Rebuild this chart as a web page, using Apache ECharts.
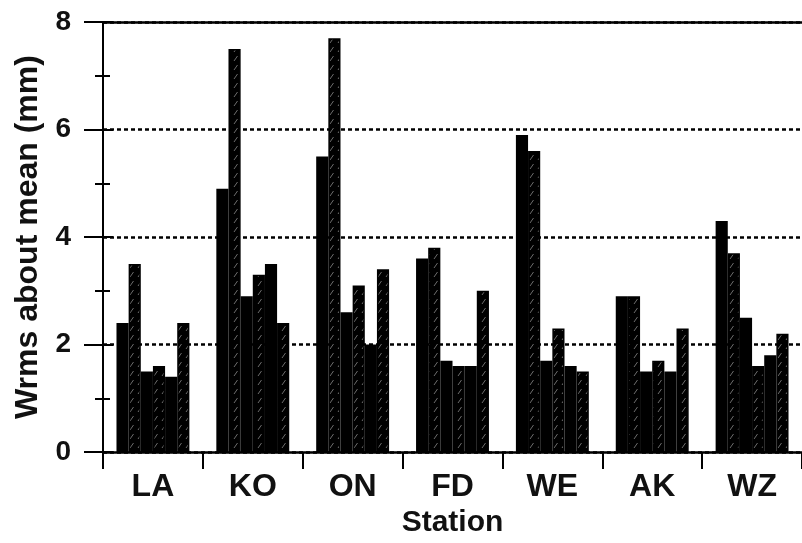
<!DOCTYPE html>
<html>
<head>
<meta charset="utf-8">
<script src="https://cdn.jsdelivr.net/npm/echarts@6/dist/echarts.min.js"></script>
<style>
html,body{margin:0;padding:0;background:#fff;}
#chart{width:802px;height:543px;}
</style>
</head>
<body>
<div id="chart"></div>
<script>
// Categories (stations)
const stations = ['LA', 'KO', 'ON', 'FD', 'WE', 'AK', 'WZ'];
// Six bars per station (Wrms about mean, mm)
const LA = [2.4, 3.5, 1.5, 1.6, 1.4, 2.4];
const KO = [4.9, 7.5, 2.9, 3.3, 3.5, 2.4];
const ON = [5.5, 7.7, 2.6, 3.1, 2.0, 3.4];
const FD = [3.6, 3.8, 1.7, 1.6, 1.6, 3.0];
const WE = [5.9, 5.6, 1.7, 2.3, 1.6, 1.5];
const AK = [2.9, 2.9, 1.5, 1.7, 1.5, 2.3];
const WZ = [4.3, 3.7, 2.5, 1.6, 1.8, 2.2];
const yTicks = [0, 2, 4, 6, 8];

const byStation = [LA, KO, ON, FD, WE, AK, WZ];

function hatchCanvas() {
  const c = document.createElement('canvas');
  c.width = 8; c.height = 9;
  const g = c.getContext('2d');
  g.fillStyle = '#000';
  g.fillRect(0, 0, 8, 9);
  g.strokeStyle = '#6e6e6e';
  g.lineWidth = 1;
  g.beginPath();
  g.moveTo(2, 7);
  g.lineTo(5.5, 2);
  g.stroke();
  return c;
}
const hatch = { image: hatchCanvas(), repeat: 'repeat' };

const FONT = '"Liberation Sans", Arial, sans-serif';

const series = [];
for (let k = 0; k < 6; k++) {
  const hatched = (k % 2 === 1);
  series.push({
    type: 'bar',
    name: 'b' + (k + 1),
    data: byStation.map(s => s[k]),
    barGap: '0%',
    barCategoryGap: '27%',
    itemStyle: hatched
      ? { color: hatch, borderColor: '#000', borderWidth: 1.5 }
      : { color: '#000' },
    silent: true
  });
}

const chart = echarts.init(document.getElementById('chart'), null, { renderer: 'canvas' });
chart.setOption({
  animation: false,
  backgroundColor: '#fff',
  grid: { left: 103, right: -4, top: 22, bottom: 89, containLabel: false },
  xAxis: [{
    type: 'category',
    data: stations,
    position: 'bottom',
    name: 'Station',
    nameLocation: 'middle',
    nameGap: 53,
    nameTextStyle: { fontFamily: FONT, fontWeight: 'bold', fontSize: 30, color: '#111' },
    axisLine: { show: true, onZero: false, lineStyle: { color: '#000', width: 2.5 } },
    axisTick: { show: true, length: 17, lineStyle: { color: '#000', width: 2 } },
    axisLabel: { margin: 19, fontFamily: FONT, fontWeight: 'bold', fontSize: 32, color: '#111' },
    splitLine: { show: false }
  }, {
    type: 'category',
    data: stations,
    position: 'top',
    axisLine: { show: true, onZero: false, lineStyle: { color: '#000', width: 2.5 } },
    axisTick: { show: false },
    axisLabel: { show: false },
    splitLine: { show: false }
  }],
  yAxis: [{
    type: 'value',
    min: yTicks[0],
    max: yTicks[yTicks.length - 1],
    interval: 2,
    position: 'left',
    name: 'Wrms about mean (mm)',
    nameLocation: 'middle',
    nameGap: 58,
    nameTextStyle: { fontFamily: FONT, fontWeight: 'bold', fontSize: 32, color: '#111' },
    axisLine: { show: true, lineStyle: { color: '#000', width: 2 } },
    axisTick: { show: true, inside: false, length: 19, lineStyle: { color: '#000', width: 2 } },
    minorTick: { show: true, splitNumber: 2, length: 8, lineStyle: { color: '#000', width: 2 } },
    axisLabel: { margin: 32, fontFamily: FONT, fontWeight: 'bold', fontSize: 28, color: '#111' },
    splitLine: { show: true, lineStyle: { color: '#000', width: 2.5, type: [4, 3] } }
  }, {
    type: 'value',
    min: yTicks[0],
    max: yTicks[yTicks.length - 1],
    interval: 2,
    position: 'left',
    axisLine: { show: false },
    axisTick: { show: true, inside: true, length: 10, lineStyle: { color: '#000', width: 2 } },
    minorTick: { show: true, splitNumber: 2, length: 7, lineStyle: { color: '#000', width: 2 } },
    axisLabel: { show: false },
    splitLine: { show: false }
  }],
  series: series
});
</script>
</body>
</html>
